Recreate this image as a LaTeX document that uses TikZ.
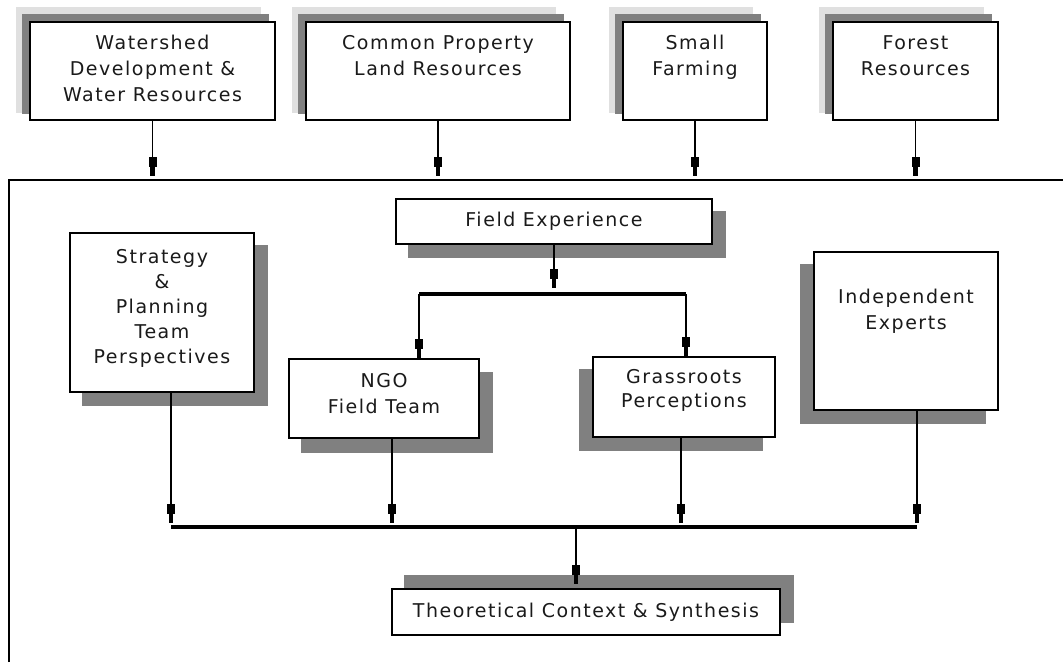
\documentclass[tikz,border=0pt]{standalone}
\usepackage{fontspec}
\setmainfont{DejaVu Sans}[LetterSpace=8]
\usetikzlibrary{arrows.meta,backgrounds,calc}
\definecolor{shdark}{HTML}{808080}
\definecolor{shlight}{HTML}{E0E0E0}
\definecolor{ink}{HTML}{1A1A1A}
\begin{document}
\begin{tikzpicture}[x=1pt,y=-1pt,
  bx/.style={draw=black, line width=1.4pt, fill=white, inner sep=0pt, align=center, text=ink, font=\fontsize{19}{26}\selectfont},
  txt/.style={inner sep=0pt, align=center, text=ink, font=\fontsize{19}{26}\selectfont},
  conn/.style={draw=black, line width=1.4pt, -{Rectangle[length=10pt,width=8pt]Rectangle[length=9pt,width=4.5pt]}},
  bar/.style={draw=black, line width=3.5pt},
  dsh/.style={fill=shdark},
  lsh/.style={fill=shlight}]
\useasboundingbox (0,0) rectangle (1063,667);

% top boxes
\node[bx, minimum width=245pt, minimum height=98pt] (ws) at (152.5,71) {};
\node[txt, anchor=north] (ws-t) at ($(ws.north)+(0,14)$) {Watershed\\Development \&\\Water Resources};
\node[bx, minimum width=264pt, minimum height=98pt] (cp) at (438,71) {};
\node[txt, anchor=north] (cp-t) at ($(cp.north)+(0,14)$) {Common Property\\Land Resources};
\node[bx, minimum width=144pt, minimum height=98pt] (sf) at (695,71) {};
\node[txt, anchor=north] (sf-t) at ($(sf.north)+(0,14)$) {Small\\Farming};
\node[bx, minimum width=165pt, minimum height=98pt] (fr) at (915.5,71) {};
\node[txt, anchor=north] (fr-t) at ($(fr.north)+(0,14)$) {Forest\\Resources};

% frame
\coordinate (ftl) at (9,180);
\coordinate (fbl) at (9,662);
\coordinate (ftr) at (1063,180);
\draw[line width=1.4pt] (fbl) -- (ftl) -- (ftr);

% inner boxes
\node[bx, minimum width=316pt, minimum height=45pt] (fe) at (554,221.5) {Field Experience};
\node[bx, minimum width=184pt, minimum height=159pt] (st) at (162,312.5) {};
\node[txt, font=\fontsize{19}{25}\selectfont] (st-t) at ($(st.center)+(0,-4)$) {Strategy\\\&\\Planning\\Team\\Perspectives};
\node[bx, minimum width=190pt, minimum height=79pt] (ngo) at (384,398.5) {};
\node[txt] (ngo-t) at ($(ngo.center)+(0,-5)$) {NGO\\Field Team};
\node[bx, minimum width=182pt, minimum height=80pt] (gr) at (684,397) {};
\node[txt, font=\fontsize{19}{24}\selectfont] (gr-t) at ($(gr.center)+(0,-7)$) {Grassroots\\Perceptions};
\node[bx, minimum width=184pt, minimum height=158pt] (ie) at (906,331) {};
\node[txt, anchor=north] (ie-t) at ($(ie.north)+(0,38)$) {Independent\\Experts};
\node[bx, minimum width=388pt, minimum height=46pt] (th) at (586,612) {Theoretical Context \& Synthesis};

% shadows
\begin{scope}[on background layer]
\foreach \n in {ws,cp,sf,fr} {
  \fill[lsh] ($(\n.south west)+(-13,-8)$) rectangle ($(\n.north east)+(-15,-14)$);
  \fill[dsh] ($(\n.south west)+(-7,-7)$) rectangle ($(\n.north east)+(-7,-7)$);
}
\fill[dsh] ($(fe.south west)+(13,13)$) rectangle ($(fe.north east)+(13,13)$);
\fill[dsh] ($(st.south west)+(13,13)$) rectangle ($(st.north east)+(13,13)$);
\fill[dsh] ($(ngo.south west)+(13,14)$) rectangle ($(ngo.north east)+(13,14)$);
\fill[dsh] ($(gr.south west)+(-13,13)$) rectangle ($(gr.north east)+(-13,13)$);
\fill[dsh] ($(ie.south west)+(-13,13)$) rectangle ($(ie.north east)+(-13,13)$);
\fill[dsh] ($(th.south west)+(13,-13)$) rectangle ($(th.north east)+(13,-13)$);
\end{scope}

% top connectors
\foreach \n in {ws,cp,sf,fr} {
  \draw[conn, shorten >=4pt] (\n.south) -- (\n.south |- ftl);
}

% field experience split
\coordinate (b1l) at (419,294);
\coordinate (b1r) at (686,294);
\draw[conn, shorten >=6pt] (fe.south) -- (fe.south |- b1l);
\draw[bar] (b1l) -- (b1r);
\draw[conn] (b1l) -- (b1l |- ngo.north);
\draw[conn] (b1r) -- (b1r |- gr.north);

% bottom collection bar
\coordinate (b2a) at (171,527);
\coordinate (b2b) at (392,527);
\coordinate (b2c) at (681,527);
\coordinate (b2d) at (917,527);
\coordinate (b2m) at (576,527);
\draw[bar] (b2a) -- (b2d);
\draw[conn, shorten >=4pt] (b2a |- st.south) -- (b2a);
\draw[conn, shorten >=4pt] (b2b |- ngo.south) -- (b2b);
\draw[conn, shorten >=4pt] (b2c |- gr.south) -- (b2c);
\draw[conn, shorten >=4pt] (b2d |- ie.south) -- (b2d);
\draw[conn, shorten >=4pt] (b2m) -- (b2m |- th.north);
\end{tikzpicture}
\end{document}
